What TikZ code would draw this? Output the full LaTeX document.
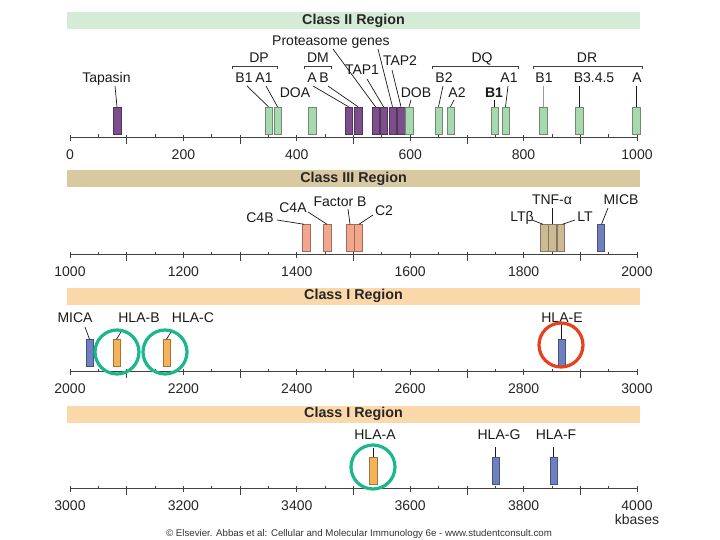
\documentclass[tikz,border=0pt]{standalone}
\usepackage{fontspec}
\setmainfont{Liberation Sans}
\definecolor{bandII}{RGB}{212,236,213}
\definecolor{bandIII}{RGB}{216,201,160}
\definecolor{bandI}{RGB}{251,216,170}
\definecolor{gbar}{RGB}{168,216,176}
\definecolor{pbar}{RGB}{125,78,140}
\definecolor{sbar}{RGB}{242,166,140}
\definecolor{tbar}{RGB}{205,185,148}
\definecolor{bbar}{RGB}{110,128,192}
\definecolor{obar}{RGB}{246,178,86}
\definecolor{ringg}{RGB}{26,184,140}
\definecolor{ringr}{RGB}{232,64,28}
\newcommand\mhcaxis[3]{%
  \draw[axisln] (70,#2) -- (637,#2);
  \foreach \i in {0,...,20}{
    \pgfmathsetmacro\xx{70+28.35*\i}
    \pgfmathtruncatemacro\mm{mod(\i,4)}
    \ifnum\mm=0 \draw[axisln] (\xx,#2-2) -- (\xx,#2+4);
    \else\ifnum\mm=2 \draw[axisln] (\xx,#2-2) -- (\xx,#2+7);
    \else \draw[axisln] (\xx,#2-2.5) -- (\xx,#2+0.5);\fi\fi
  }
  \foreach \i in {0,...,5}{
    \pgfmathtruncatemacro\vv{#3+200*\i}
    \node[numlab] (#1n\i) at (70+113.4*\i, #2+17.5) {\vv};
  }
}
\begin{document}
\begin{tikzpicture}[x=1pt,y=-1pt,
  band/.style={fill=#1, draw=none, minimum width=573pt, minimum height=17pt, inner sep=0pt,
    font=\fontsize{14.3}{16}\selectfont\bfseries, text=black!85},
  bar/.style={fill=#1, draw=#1!65!black, line width=0.5pt, minimum width=7.5pt, minimum height=27pt, inner sep=0pt},
  lab/.style={font=\fontsize{14}{16}\selectfont, inner sep=0pt, text height=10pt, text depth=0pt, anchor=south, text=black!90},
  numlab/.style={font=\fontsize{14}{16}\selectfont, inner sep=0pt, text height=10pt, text depth=0pt, text=black!85},
  con/.style={draw=black!90, line width=0.7pt},
  brk/.style={draw=black!75, line width=0.9pt},
  axisln/.style={draw=black!75, line width=0.8pt},
  ring/.style={circle, draw=#1, line width=3.2pt, minimum size=44pt, inner sep=0pt}]
\useasboundingbox (0,0) rectangle (720,540);
\fill[white] (0,0) rectangle (720,540);

% ===== Class II =====
\node[band=bandII] (bandA) at (353.5,20.5) {Class II Region};
\mhcaxis{ax1}{137}{0}
\node[bar=pbar] (Btap) at (117,120.5) {};
\node[bar=gbar] (Bdpb1) at (268.5,120.5) {};
\node[bar=gbar] (Bdpa1) at (277.5,120.5) {};
\node[bar=gbar] (Bdoa) at (312,120.5) {};
\node[bar=pbar] (Bdma) at (348.5,120.5) {};
\node[bar=pbar] (Bdmb) at (358,120.5) {};
\node[bar=pbar] (Bp1) at (375.5,120.5) {};
\node[bar=pbar] (Btap1) at (383.5,120.5) {};
\node[bar=pbar] (Bp2) at (392.5,120.5) {};
\node[bar=pbar] (Btap2) at (401,120.5) {};
\node[bar=gbar] (Bdob) at (409,120.5) {};
\node[bar=gbar] (Bdqb2) at (438.5,120.5) {};
\node[bar=gbar] (Bdqa2) at (450.5,120.5) {};
\node[bar=gbar] (Bdqb1) at (494.5,120.5) {};
\node[bar=gbar] (Bdqa1) at (505.5,120.5) {};
\node[bar=gbar] (Bdrb1) at (543,120.5) {};
\node[bar=gbar] (Bdrb3) at (579,120.5) {};
\node[bar=gbar] (Bdra) at (636,120.5) {};

\node[lab] (Ltap) at (106.5,83) {Tapasin};
\node[lab] (Ldpb1) at (244,83) {B1};
\node[lab] (Ldpa1) at (264,83) {A1};
\node[lab] (Ldma) at (312,83) {A};
\node[lab] (Ldmb) at (324,83) {B};
\node[lab] (Ldqb2) at (444,83) {B2};
\node[lab] (Ldqa1) at (509,83) {A1};
\node[lab] (Ldrb1) at (544,83) {B1};
\node[lab] (Ldrb3) at (594,83) {B3.4.5};
\node[lab] (Ldra) at (637,83) {A};
\node[lab] (Ldoa) at (295,98) {DOA};
\node[lab] (Ldob) at (416,98) {DOB};
\node[lab] (Ldqa2) at (457,98) {A2};
\node[lab,font=\fontsize{14}{16}\selectfont\bfseries] (Ldqb1) at (494,98) {B1};
\node[lab] (Ldp) at (259,63) {DP};
\node[lab] (Ldm) at (318,63) {DM};
\node[lab] (Ldq) at (482,63) {DQ};
\node[lab] (Ldr) at (587,63) {DR};
\node[lab] (Ltap1) at (362,75) {TAP1};
\node[lab] (Ltap2) at (400,66) {TAP2};
\node[lab] (Lprot) at (331,46) {Proteasome genes};

\draw[brk] (232,69.5) -- (232,66) -- (277,66) -- (277,69.5);
\draw[brk] (304,69.5) -- (304,66) -- (331,66) -- (331,69.5);
\draw[brk] (432,69.5) -- (432,66) -- (518,66) -- (518,69.5);
\draw[brk] (533,69.5) -- (533,66) -- (642,66) -- (642,69.5);

\draw[con] ([xshift=8.5pt,yshift=-3pt]Ltap.south) -- (Btap.north);
\draw[con] ([xshift=3pt,yshift=-3pt]Ldpb1.south) -- (Bdpb1.north);
\draw[con] ([xshift=2pt,yshift=-3pt]Ldpa1.south) -- (Bdpa1.north);
\draw[con] ([xshift=1pt,yshift=-3pt]Ldma.south) -- (Bdma.north);
\draw[con] ([xshift=4pt,yshift=-3pt]Ldmb.south) -- (Bdmb.north);
\draw[con] ([xshift=2pt,yshift=-3pt]Lprot.south) -- (Bp1.north);
\draw[con] ([xshift=5pt,yshift=-4pt]Ltap1.south) -- (Btap1.north);
\draw[con] ([xshift=47pt,yshift=-3pt]Lprot.south) -- (Bp2.north);
\draw[con] ([xshift=-8pt,yshift=-4pt]Ltap2.south) -- (Btap2.north);
\draw[con] ([xshift=-5pt,yshift=-2pt]Ldob.south) -- (Bdob.north);
\draw[con] ([xshift=-1pt,yshift=-3pt]Ldqb2.south) -- (Bdqb2.north);
\draw[con] ([xshift=-3pt,yshift=-2pt]Ldqa2.south) -- (Bdqa2.north);
\draw[con] ([xshift=0.5pt,yshift=-2pt]Ldqb1.south) -- (Bdqb1.north);
\draw[con] ([xshift=-1pt,yshift=-3pt]Ldqa1.south) -- (Bdqa1.north);
\draw[con,draw=black!40] ([xshift=-1pt,yshift=-3pt]Ldrb1.south) -- (Bdrb1.north);
\draw[con] ([xshift=-15pt,yshift=-3pt]Ldrb3.south) -- (Bdrb3.north);
\draw[con] ([xshift=-1pt,yshift=-3pt]Ldra.south) -- (Bdra.north);

% ===== Class III =====
\node[band=bandIII] (bandB) at (353.5,179) {Class III Region};
\mhcaxis{ax2}{254}{1000}
\node[bar=sbar] (Bc4b) at (306,238) {};
\node[bar=sbar] (Bc4a) at (327,238) {};
\node[bar=sbar] (Bfb) at (350,238) {};
\node[bar=sbar] (Bc2) at (358,238) {};
\node[bar=tbar] (Bltb) at (544,238) {};
\node[bar=tbar] (Btnf) at (552,238) {};
\node[bar=tbar] (Blt) at (560.5,238) {};
\node[bar=bbar] (Bmicb) at (600.5,238) {};

\node[lab] (Lc4b) at (260,223) {C4B};
\node[lab] (Lc4a) at (293,213) {C4A};
\node[lab] (Lfb) at (340,207) {Factor B};
\node[lab] (Lc2) at (384,216) {C2};
\node[lab] (Lltb) at (522,222) {LTβ};
\node[lab] (Ltnf) at (552,205) {TNF-α};
\node[lab] (Llt) at (585,222) {LT};
\node[lab] (Lmicb) at (621,205) {MICB};

\draw[con] ([xshift=17pt,yshift=3pt]Lc4b.south) -- ([xshift=-2pt]Bc4b.north);
\draw[con] ([xshift=15pt,yshift=1pt]Lc4a.south) -- (Bc4a.north);
\draw[con] ([xshift=8pt,yshift=-2pt]Lfb.south) -- (Bfb.north);
\draw[con] ([xshift=-11pt,yshift=1pt]Lc2.south) -- ([xshift=1pt]Bc2.north);
\draw[con] ([xshift=10pt,yshift=2pt]Lltb.south) -- ([xshift=-1pt]Bltb.north);
\draw[con] ([yshift=-3pt]Ltnf.south) -- (Btnf.north);
\draw[con] ([xshift=-10pt,yshift=2pt]Llt.south) -- ([xshift=2pt]Blt.north);
\draw[con] ([xshift=-13pt,yshift=-3pt]Lmicb.south) -- ([xshift=1pt]Bmicb.north);

% ===== Class I (a) =====
\node[band=bandI] (bandC) at (353.5,296) {Class I Region};
\mhcaxis{ax3}{371}{2000}
\node[bar=bbar] (Bmica) at (89.5,353) {};
\node[bar=obar] (Bhlab) at (116.5,353) {};
\node[bar=obar] (Bhlac) at (166.5,353) {};
\node[bar=bbar] (Bhlae) at (561.5,353) {};

\node[lab] (Lmica) at (75,323) {MICA};
\node[lab] (Lhlab) at (139,323) {HLA-B};
\node[lab] (Lhlac) at (193,323) {HLA-C};
\node[lab] (Lhlae) at (562,323) {HLA-E};

\draw[con] ([xshift=10pt,yshift=-4pt]Lmica.south) -- (Bmica.north);
\draw[con] ([xshift=-18pt,yshift=-9pt]Lhlab.south) -- (Bhlab.north);
\draw[con] ([xshift=-22pt,yshift=-9pt]Lhlac.south) -- (Bhlac.north);
\draw[con] ([xshift=-0.5pt,yshift=-1pt]Lhlae.south) -- (Bhlae.north);

\node[ring=ringg] (Rb) at (117,352) {};
\node[ring=ringg] (Rc) at (165,352) {};
\node[ring=ringr] (Re) at (561,345) {};

% ===== Class I (b) =====
\node[band=bandI] (bandD) at (353.5,414) {Class I Region};
\mhcaxis{ax4}{488}{3000}
\node[bar=obar] (Bhlaa) at (373,470.5) {};
\node[bar=bbar] (Bhlag) at (495.5,470.5) {};
\node[bar=bbar] (Bhlaf) at (553.5,470.5) {};

\node[lab] (Lhlaa) at (375,440) {HLA-A};
\node[lab] (Lhlag) at (499,440) {HLA-G};
\node[lab] (Lhlaf) at (556,440) {HLA-F};

\draw[con] ([xshift=-2pt,yshift=-8pt]Lhlaa.south) -- (Bhlaa.north);
\draw[con] ([xshift=-3.5pt,yshift=-7pt]Lhlag.south) -- (Bhlag.north);
\draw[con] ([xshift=-2.5pt,yshift=-7pt]Lhlaf.south) -- (Bhlaf.north);

\node[ring=ringg] (Ra) at (373,467) {};

\node[font=\fontsize{14}{16}\selectfont, inner sep=0pt, anchor=base, text=black!85] (kb) at (637,524) {kbases};
\node[font=\fontsize{9.7}{11}\selectfont, inner sep=0pt, text=black!80] (copy) at (359,534) {© Elsevier. Abbas et al: Cellular and Molecular Immunology 6e - www.studentconsult.com};
\end{tikzpicture}
\end{document}
